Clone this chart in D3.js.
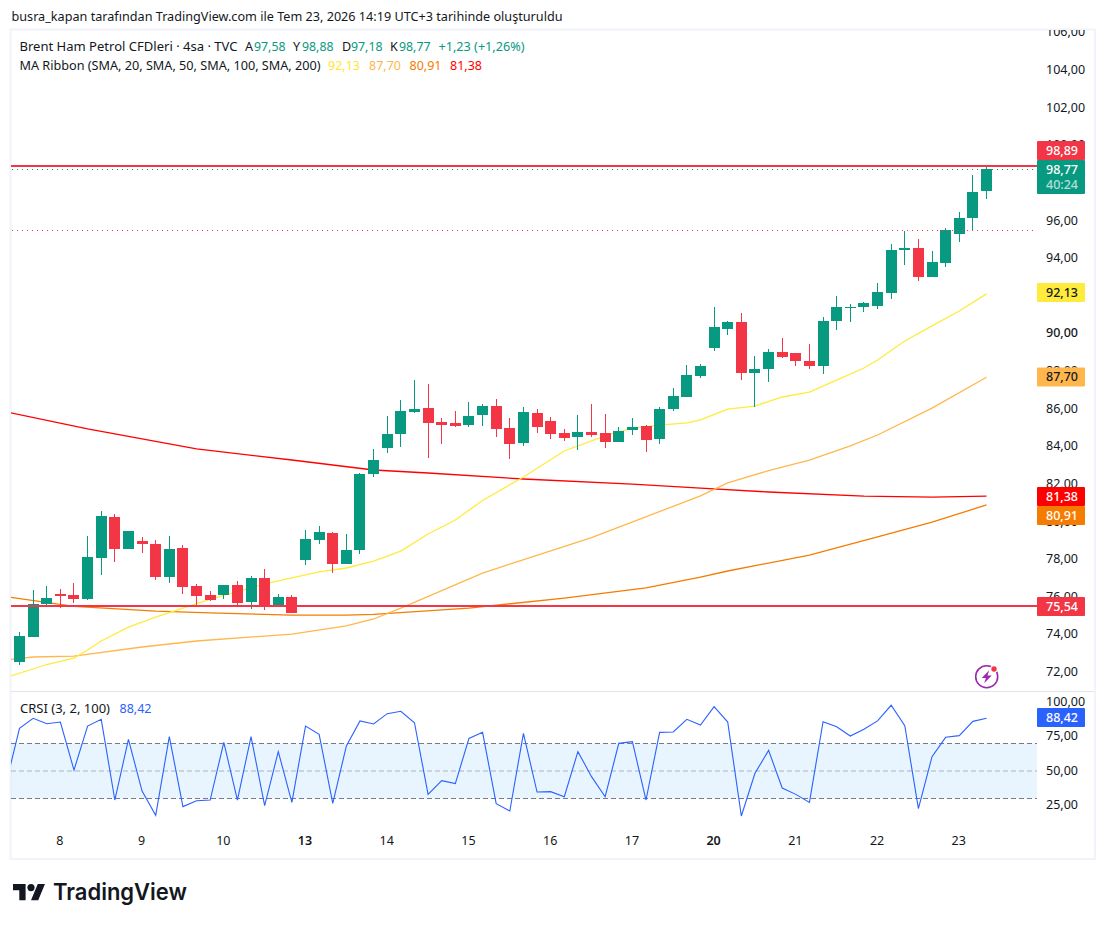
<!DOCTYPE html>
<html>
<head>
<meta charset="utf-8">
<script src="https://cdn.jsdelivr.net/npm/d3@7/dist/d3.min.js"></script>
<style>
html,body{margin:0;padding:0;background:#fff}
svg{display:block}
text{font-family:"Noto Sans",sans-serif;fill:#131722}
</style>
</head>
<body>
<script>
// ---------- data ----------
const opens  = [72.56,73.89,75.65,76.18,76.12,75.91,78.09,80.27,78.57,79.00,78.83,77.08,78.62,76.60,76.12,76.12,76.66,75.75,77.03,75.49,76.02,77.98,79.05,79.42,77.77,78.52,82.55,83.94,84.68,85.85,86.06,85.32,85.27,85.16,85.69,86.17,85.00,84.20,85.80,85.37,84.74,84.52,84.79,84.74,84.26,84.89,85.11,84.42,86.01,86.65,87.77,89.25,90.26,90.64,87.92,88.14,89.04,88.99,88.56,88.30,90.69,91.38,91.43,91.49,92.18,94.46,94.57,93.03,93.77,95.31,96.17,97.58];
const highs  = [74.16,76.39,76.60,76.44,76.76,79.26,80.59,80.43,79.53,79.21,79.05,79.26,78.78,76.71,76.34,76.66,76.87,77.13,77.50,76.18,76.12,79.58,79.79,79.47,79.37,82.61,83.89,85.64,86.49,87.55,87.34,85.53,85.90,86.38,86.28,86.54,85.53,86.12,86.01,85.59,84.95,85.69,86.28,85.75,85.05,85.53,85.16,86.12,87.13,88.35,88.40,91.43,90.69,91.11,88.83,89.20,89.79,88.99,89.47,90.90,92.02,91.59,91.70,92.71,94.78,95.47,95.05,94.41,95.63,96.48,98.45,98.88];
const lows   = [72.40,73.89,75.59,75.43,75.70,75.86,77.19,77.88,78.57,78.36,76.92,76.76,76.18,75.54,75.80,75.91,75.59,75.38,75.33,75.49,75.17,77.72,78.83,77.29,77.77,78.30,82.40,83.67,83.99,85.80,83.41,84.15,85.05,85.05,85.11,84.52,83.35,84.05,84.74,84.42,84.31,83.83,84.52,83.94,84.26,84.63,83.73,84.15,85.90,86.65,87.66,89.09,89.95,87.55,86.12,87.45,88.72,88.30,88.14,87.87,90.21,90.64,91.17,91.33,91.86,93.67,92.82,93.03,93.56,94.89,95.47,97.18];
const closes = [73.94,75.65,75.96,76.07,75.91,78.14,80.32,78.57,79.53,78.83,77.08,78.57,76.55,76.07,75.86,76.66,75.70,77.03,75.54,76.02,75.17,79.10,79.47,77.77,78.52,82.55,83.30,84.68,85.90,86.01,85.27,85.16,85.11,85.64,86.17,84.95,84.15,85.85,85.05,84.68,84.47,84.79,84.63,84.26,84.84,85.05,84.36,86.01,86.70,87.82,88.30,90.37,90.64,87.92,88.14,89.04,88.78,88.56,88.30,90.69,91.43,91.46,91.65,92.23,94.46,94.57,93.03,93.83,95.53,96.17,97.55,98.77];

const ma20Bars = [-1,2,4,5,6,8,10,12,14,18,20,22,24,26,28,30,32,34,37,40,43,45,47,49,50,52,54,56,58,60,62,63,65,67,69,71];
const ma20Vals = [71.74,72.43,72.77,73.20,73.68,74.42,74.95,75.43,75.91,76.71,77.03,77.35,77.56,77.93,78.46,79.37,80.11,81.15,82.40,83.78,84.58,85.00,85.16,85.27,85.43,86.01,86.17,86.65,86.91,87.55,88.19,88.62,89.63,90.43,91.22,92.13];
const ma50Bars = [-1,1,4,9,13,20,24,26,28,34,36,42,50,52,55,58,61,63,67,71];
const ma50Vals = [72.67,72.83,72.88,73.36,73.68,74.05,74.48,74.85,75.43,77.29,77.77,79.18,81.39,82.08,82.74,83.30,84.05,84.63,86.06,87.70];
const ma100Bars = [-1,4,10,14,20,24,26,33,40,46,50,52,58,63,67,71];
const ma100Vals = [76.04,75.52,75.27,75.17,75.06,75.06,75.09,75.43,75.96,76.50,77.08,77.40,78.25,79.21,80.00,80.91];
const ma200Bars = [-1,5,13,20,26,30,37,45,50,55,62,67,71];
const ma200Vals = [85.86,84.95,83.89,83.30,82.77,82.61,82.29,82.02,81.81,81.60,81.38,81.33,81.38];

const crsi = [40.5,81.0,88.3,84.4,85.6,50.7,82.7,87.6,28.9,73.0,35.4,17.8,75.0,24.1,28.4,28.9,70.8,28.9,75.0,24.8,64.1,27.2,82.7,76.7,26.5,68.2,86.4,84.2,91.7,93.4,85.1,33.0,43.0,40.8,73.7,78.1,26.2,20.9,77.4,34.7,35.0,31.3,64.1,45.9,31.3,70.1,71.3,28.9,78.1,78.4,87.6,83.4,96.8,85.6,17.3,48.3,65.0,37.6,33.0,27.2,85.9,82.2,75.4,80.3,86.4,97.8,83.0,22.6,60.4,74.5,75.7,86.1,88.42];

const priceTicks = [72,74,76,78,80,82,84,86,88,90,92,94,96,98,100,102,104,106];
const crsiTicks  = [25,50,75,100];
const crsiLevels = [30,50,70];
const dayBars    = [3,9,15,21,27,33,39,45,51,57,63,69];
const dayLabels  = ["8","9","10","13","14","15","16","17","20","21","22","23"];
const boldDays   = ["13","20"];

const alertHigh = 98.89, alertLow = 75.54, lastClose = 98.77, prevLevel = 95.51;
const lastCrsi = 88.42;
const countdown = "40:24";

const titleText = "busra_kapan tarafından TradingView.com ile Tem 23, 2026 14:19 UTC+3 tarihinde oluşturuldu";
const symbolText = "Brent Ham Petrol CFDleri · 4sa · TVC";
const ohlcLetters = ["A","Y","D","K"];
const ohlcValues = [97.58,98.88,97.18,98.77];
const changeText = "+1,23 (+1,26%)";
const ribbonText = "MA Ribbon (SMA, 20, SMA, 50, SMA, 100, SMA, 200)";
const ribbonValues = [92.13,87.70,80.91,81.38];
const crsiText = "CRSI (3, 2, 100)";
const logoText = "TradingView";

// ---------- layout ----------
const W = 1106, H = 925;
const pane = {left: 11, right: 1037, top: 30, sep: 691, bottom: 858, outer: 1095};
const UP = "#089981", DOWN = "#f23645", BLUE = "#2962ff";
const maColors = ["#ffeb3b","#ffb74d","#f57c00","#ff0000"];
const fmt = v => d3.format(".2f")(v).replace(".", ",");

const x = d3.scaleLinear().domain([0, 71]).range([19.5, 986.5]);
const y = d3.scaleLinear().domain([75.54, 98.77]).range([606, 169]);
const yC = d3.scaleLinear().domain([30, 70]).range([798.5, 743.5]);

const svg = d3.select("body").append("svg").attr("width", W).attr("height", H);
const defs = svg.append("defs");
defs.append("clipPath").attr("id","cMain").append("rect").attr("x",pane.left).attr("y",pane.top).attr("width",pane.right-pane.left).attr("height",pane.sep-pane.top);
defs.append("clipPath").attr("id","cCrsi").append("rect").attr("x",pane.left).attr("y",pane.sep).attr("width",pane.right-pane.left).attr("height",pane.bottom-pane.sep);
defs.append("clipPath").attr("id","cAxis").append("rect").attr("x",pane.right).attr("y",pane.top).attr("width",pane.outer-pane.right).attr("height",pane.sep-pane.top);
defs.append("clipPath").attr("id","cAxis2").append("rect").attr("x",pane.right).attr("y",pane.sep).attr("width",pane.outer-pane.right).attr("height",pane.bottom-pane.sep);

svg.append("rect").attr("width",W).attr("height",H).attr("fill","#fff");

// title
svg.append("text").attr("x",11.5).attr("y",21).attr("font-size",12.6).text(titleText).attr("textLength",551).attr("lengthAdjust","spacingAndGlyphs");

// frame
svg.append("rect").attr("x",pane.left-0.5).attr("y",pane.top-0.5).attr("width",pane.outer-pane.left+0.5).attr("height",pane.bottom-pane.top+1.5)
  .attr("fill","none").attr("stroke","#f0f3fa").attr("stroke-width",2);
svg.append("line").attr("x1",pane.left).attr("x2",pane.outer-1).attr("y1",pane.sep+0.5).attr("y2",pane.sep+0.5).attr("stroke","#e0e3eb");

// main pane
const gMain = svg.append("g").attr("clip-path","url(#cMain)");
const lineGen = (bars, vals) => d3.line().x((d,i)=>x(bars[i])).y(d=>y(d))(vals);
[[ma200Bars,ma200Vals,3],[ma100Bars,ma100Vals,2],[ma50Bars,ma50Vals,1],[ma20Bars,ma20Vals,0]].forEach(([b,v,c])=>{
  gMain.append("path").attr("d",lineGen(b,v)).attr("fill","none").attr("stroke",maColors[c]).attr("stroke-width",1.3);
});

// candles
const candleIdx = d3.range(opens.length);
const left = i => Math.round(x(i)-5.5);
const color = i => closes[i] >= opens[i] ? UP : DOWN;
gMain.selectAll("rect.wick").data(candleIdx).join("rect").attr("class","wick")
  .attr("x",i=>left(i)+5).attr("width",1)
  .attr("y",i=>Math.round(y(highs[i]))).attr("height",i=>Math.max(1,Math.round(y(lows[i]))-Math.round(y(highs[i]))))
  .attr("fill",color);
gMain.selectAll("rect.body").data(candleIdx).join("rect").attr("class","body")
  .attr("x",left).attr("width",11)
  .attr("y",i=>Math.round(y(Math.max(opens[i],closes[i]))))
  .attr("height",i=>Math.max(1,Math.round(y(Math.min(opens[i],closes[i])))-Math.round(y(Math.max(opens[i],closes[i])))))
  .attr("fill",color);

// horizontal levels
[[lastClose,UP],[prevLevel,DOWN]].forEach(([v,c])=>{
  gMain.append("line").attr("x1",pane.left+1).attr("x2",pane.right).attr("y1",Math.round(y(v))+0.5).attr("y2",Math.round(y(v))+0.5)
    .attr("stroke",c).attr("stroke-width",1).attr("stroke-dasharray","1 4").attr("shape-rendering","crispEdges");
});
[alertHigh,alertLow].forEach(v=>{
  const ly = Math.floor(y(v));
  gMain.append("line").attr("x1",pane.left).attr("x2",pane.right).attr("y1",ly).attr("y2",ly).attr("stroke",DOWN).attr("stroke-width",2);
});

// lightning badge
const badge = svg.append("g").attr("transform","translate(986.7,676.7)");
badge.append("circle").attr("r",11).attr("fill","#fff").attr("stroke","#9c27b0").attr("stroke-width",1.6);
badge.append("path").attr("d","M2.5,-6.5 L-5,1.2 L-0.8,1.2 L-2.5,6.5 L5,-1.2 L0.8,-1.2 Z").attr("fill","#9c27b0");
badge.append("circle").attr("cx",7.3).attr("cy",-7.7).attr("r",3.8).attr("fill","#fff");
badge.append("circle").attr("cx",7.3).attr("cy",-7.7).attr("r",2.7).attr("fill",DOWN);

// CRSI pane
const gC = svg.append("g").attr("clip-path","url(#cCrsi)");
gC.append("rect").attr("x",pane.left).attr("width",pane.right-pane.left).attr("y",yC(70)).attr("height",yC(30)-yC(70)).attr("fill","#2196f3").attr("fill-opacity",0.1);
crsiLevels.forEach(l=>{
  gC.append("line").attr("x1",pane.left).attr("x2",pane.right).attr("y1",yC(l)).attr("y2",yC(l))
    .attr("stroke","#787b86").attr("stroke-opacity",l===50?0.55:1).attr("stroke-dasharray","5 3");
});
gC.append("path").datum(crsi).attr("d",d3.line().x((d,i)=>x(i-1)).y(d=>yC(d))).attr("fill","none").attr("stroke",BLUE).attr("stroke-width",1.1);

// axes
const styleAxis = g => { g.select(".domain").remove(); g.selectAll("text").attr("font-size",12.5).attr("fill","#131722"); };
svg.append("g").attr("clip-path","url(#cAxis)").append("g").attr("transform",`translate(${pane.right},0)`)
  .call(d3.axisRight(y).tickValues(priceTicks).tickSize(0).tickPadding(9).tickFormat(fmt))
  .call(styleAxis).call(g=>g.selectAll("text").attr("dy","0.24em").attr("font-weight",d=>d===90?500:400).attr("text-anchor","start"));
svg.append("g").attr("clip-path","url(#cAxis2)").append("g").attr("transform",`translate(${pane.right},0)`)
  .call(d3.axisRight(yC).tickValues(crsiTicks).tickSize(0).tickPadding(9).tickFormat(fmt))
  .call(styleAxis).call(g=>g.selectAll("text").attr("dy","0.24em"));
svg.append("g").attr("transform","translate(-1,836)")
  .call(d3.axisBottom(x).tickValues(dayBars).tickSize(0).tickPadding(0).tickFormat((d,i)=>dayLabels[i]))
  .call(styleAxis).call(g=>g.selectAll("text").attr("font-weight",(d,i)=>boldDays.includes(dayLabels[i])?600:400).attr("dy","0.71em"));

// price pills
function pill(cy0, h, bg, fg, label, sub){
  const top = cy0;
  svg.append("rect").attr("x",pane.right).attr("y",top).attr("width",48).attr("height",h).attr("fill",bg).attr("rx",1);
  svg.append("text").attr("x",1046).attr("y",top+13.6).attr("font-size",12.5).attr("font-weight",500).style("fill",fg).text(label);
  if(sub) svg.append("text").attr("x",1046).attr("y",top+28.6).attr("font-size",12.5).attr("font-weight",500).style("fill",fg).style("fill-opacity",0.7).text(sub);
}
pill(141, 19, DOWN, "#fff", fmt(alertHigh));
pill(160, 34, UP, "#fff", fmt(lastClose), countdown);
pill(283, 19, maColors[0], "#131722", fmt(ribbonValues[0]));
pill(367.5, 19, maColors[1], "#131722", fmt(ribbonValues[1]));
pill(487, 19, maColors[3], "#fff", fmt(ribbonValues[3]));
pill(506, 19, maColors[2], "#fff", fmt(ribbonValues[2]));
pill(597, 19, DOWN, "#fff", fmt(alertLow));
pill(708, 19, BLUE, "#fff", fmt(lastCrsi));

// legends
const L = (xp, yp, t, c, len) => {
  const s = svg.append("text").attr("x",xp).attr("y",yp).attr("font-size",12.6).text(t);
  if(c) s.style("fill",c);
  if(len) s.attr("textLength",len).attr("lengthAdjust","spacingAndGlyphs");
  return s;
};
L(19.5, 51, symbolText, null, 218);
const letterX = [245,293,342,390];
ohlcLetters.forEach((k,i)=>{
  L(letterX[i], 51, k);
  L(letterX[i]+9, 51, fmt(ohlcValues[i]), UP, 31.5);
});
L(438.5, 51, changeText, UP, 86);
L(19.5, 70, ribbonText, null, 301);
const ribbonX = [328,369,409.5,450];
ribbonValues.forEach((v,i)=>L(ribbonX[i],70,fmt(v),maColors[i]==="#ffeb3b"?"#ffe62e":maColors[i],32));
L(20, 713, crsiText, null, 90);
L(119.5, 713, fmt(lastCrsi), BLUE, 32);

// logo
const logo = svg.append("g").attr("transform","translate(13,880.4) scale(0.9)").attr("fill","#131722");
logo.append("path").attr("d","M14 22H7V11H0V4h14v18zM28 22h-8l7.5-18h8L28 22z");
logo.append("circle").attr("cx",20).attr("cy",8).attr("r",4);
svg.append("text").attr("x",53).attr("y",900).attr("font-size",23).attr("font-weight",600)
  .style("font-family","Inter,'Noto Sans',sans-serif").attr("textLength",134).attr("lengthAdjust","spacingAndGlyphs").text(logoText);
</script>
</body>
</html>
